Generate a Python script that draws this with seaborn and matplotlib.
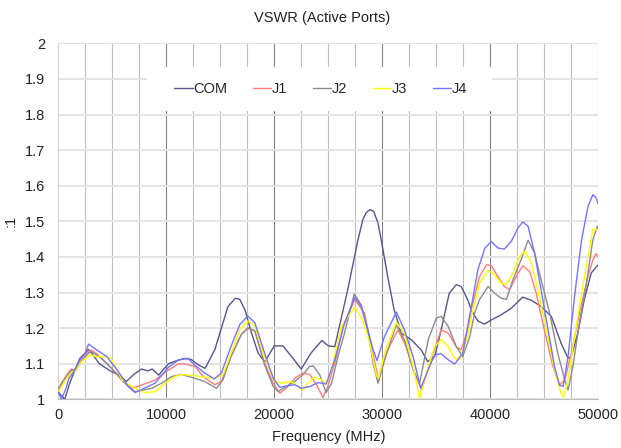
import matplotlib
matplotlib.use("Agg")
import matplotlib.pyplot as plt
from matplotlib.patches import Rectangle
from matplotlib.lines import Line2D
import seaborn as sns
import pandas as pd
import numpy as np

# ---------------- data ----------------
com_f = [0, 300, 600, 1000, 1500, 2000, 2500, 2800, 3200, 3800, 4800, 5500, 6300, 7000, 7700, 8300, 8700, 9300,
         10200, 11100, 11700, 12300, 13000, 13600, 14500, 15100, 15700, 16400, 16800, 17300, 17900, 18500, 19100,
         20000, 20800, 21600, 22500, 23400, 24400, 25000, 25600, 26800, 27750, 28200, 28500, 28850, 29200, 29600,
         29900, 30500, 31100, 31750, 32700, 33600, 34200, 34850, 35450, 36200, 36850, 37300, 37900, 38250, 38850,
         39450, 40100, 41000, 41950, 43000, 43800, 44700, 45650, 46550, 47200, 47500, 48100, 48700, 49350, 50000]
com_v = [1.02, 1.01, 1.00, 1.04, 1.08, 1.115, 1.13, 1.14, 1.125, 1.10, 1.08, 1.07, 1.05, 1.07, 1.085, 1.08, 1.085, 1.068,
         1.10, 1.11, 1.115, 1.112, 1.096, 1.087, 1.14, 1.20, 1.26, 1.284, 1.281, 1.25, 1.185, 1.13, 1.105,
         1.15, 1.15, 1.12, 1.085, 1.13, 1.165, 1.15, 1.148, 1.308, 1.448, 1.505, 1.524, 1.533, 1.528, 1.495,
         1.448, 1.345, 1.251, 1.186, 1.167, 1.139, 1.106, 1.12, 1.195, 1.298, 1.322, 1.317, 1.28, 1.25, 1.22,
         1.211, 1.223, 1.237, 1.256, 1.287, 1.278, 1.261, 1.233, 1.158, 1.115, 1.12, 1.186, 1.28, 1.355, 1.378]

j1_f = [0, 400, 800, 1200, 1600, 2000, 2500, 3000, 3500, 4000, 5000, 6000, 6800, 7700, 8950, 10200, 11100, 11600,
        12650, 13550, 14500, 15100, 16000, 16950, 17550, 18200, 19100, 19900, 20500, 21100, 21900, 22650, 23300,
        23900, 24500, 24950, 25600, 26400, 27450, 28350, 29000, 29650, 30500, 31450, 32200, 33000, 33650, 34500,
        35450, 36100, 36850, 37300, 37950, 38300, 39000, 39650, 40100, 40700, 41300, 41800, 42400, 43000, 43650,
        44250, 45000, 45800, 46400, 46900, 47500, 48250, 49050, 49500, 49800, 50000]
j1_v = [1.02, 1.05, 1.07, 1.085, 1.08, 1.10, 1.125, 1.138, 1.13, 1.115, 1.085, 1.05, 1.031, 1.04, 1.054, 1.082, 1.099, 1.10,
        1.092, 1.06, 1.041, 1.05, 1.121, 1.182, 1.199, 1.192, 1.102, 1.045, 1.017, 1.031, 1.059, 1.074, 1.069,
        1.041, 1.005, 1.036, 1.102, 1.206, 1.28, 1.242, 1.148, 1.053, 1.139, 1.195, 1.148, 1.073, 1.026, 1.111,
        1.195, 1.186, 1.148, 1.139, 1.20, 1.26, 1.345, 1.378, 1.375, 1.345, 1.317, 1.308, 1.345, 1.375, 1.359,
        1.298, 1.195, 1.092, 1.04, 1.054, 1.129, 1.242, 1.345, 1.392, 1.409, 1.40]

j2_f = [0, 400, 800, 1200, 1600, 2000, 2500, 3000, 3500, 4000, 5000, 6000, 7100, 8650, 9550, 10500, 11400, 12650,
        13550, 14650, 15250, 16000, 16950, 17550, 18200, 19100, 19900, 20350, 21100, 21900, 22650, 23250, 23600,
        24200, 24800, 25300, 25900, 26500, 27400, 28050, 28650, 29150, 29600, 30200, 31300, 32050, 32850, 33450,
        34250, 35000, 35450, 36100, 36850, 37450, 38100, 38550, 39000, 39800, 40400, 41000, 41500, 42100, 42850,
        43500, 44100, 44700, 45500, 46250, 46900, 47200, 47650, 48250, 48900, 49500, 49900, 50000]
j2_v = [1.03, 1.05, 1.065, 1.08, 1.085, 1.10, 1.12, 1.135, 1.125, 1.115, 1.085, 1.05, 1.021, 1.031, 1.045, 1.064, 1.07, 1.059,
        1.05, 1.031, 1.055, 1.121, 1.182, 1.201, 1.192, 1.097, 1.036, 1.022, 1.036, 1.05, 1.069, 1.092, 1.094,
        1.069, 1.019, 1.045, 1.121, 1.186, 1.296, 1.265, 1.195, 1.101, 1.045, 1.111, 1.209, 1.167, 1.083, 1.045,
        1.167, 1.228, 1.233, 1.205, 1.148, 1.12, 1.176, 1.242, 1.28, 1.317, 1.298, 1.284, 1.281, 1.336, 1.392,
        1.447, 1.411, 1.336, 1.242, 1.129, 1.054, 1.026, 1.092, 1.214, 1.326, 1.448, 1.486, 1.48]

j3_f = [0, 400, 800, 1200, 1600, 2000, 2500, 3000, 3500, 4300, 4900, 5900, 7100, 8000, 8950, 9900, 10800, 11400,
        12650, 13550, 14500, 15250, 16000, 16800, 17550, 18200, 19100, 20000, 20800, 21550, 22200, 22650, 23100,
        23700, 24350, 24800, 25300, 26200, 27450, 28200, 28850, 29450, 29650, 30200, 31300, 32050, 32850, 33450,
        34250, 34850, 35450, 36100, 36700, 37150, 37900, 38250, 39000, 39800, 40400, 41000, 41500, 42100, 42700,
        43200, 43800, 44400, 45200, 45950, 46550, 46750, 47200, 47800, 48450, 49050, 49500, 50000]
j3_v = [1.02, 1.04, 1.06, 1.075, 1.08, 1.10, 1.115, 1.125, 1.12, 1.12, 1.115, 1.054, 1.031, 1.019, 1.021, 1.045, 1.064, 1.07,
        1.066, 1.062, 1.059, 1.069, 1.13, 1.196, 1.22, 1.206, 1.121, 1.05, 1.045, 1.05, 1.036, 1.026, 1.045,
        1.062, 1.055, 1.043, 1.083, 1.206, 1.258, 1.223, 1.158, 1.068, 1.059, 1.129, 1.216, 1.186, 1.092, 1.003,
        1.092, 1.148, 1.167, 1.148, 1.115, 1.111, 1.176, 1.233, 1.326, 1.362, 1.35, 1.326, 1.322, 1.355, 1.401,
        1.416, 1.383, 1.308, 1.195, 1.083, 1.017, 1.006, 1.054, 1.176, 1.298, 1.401, 1.477, 1.477]

j4_f = [0, 300, 700, 1000, 1500, 2000, 2500, 2800, 3500, 4500, 5500, 6500, 7100, 8950, 10200, 11100, 12000, 12600,
        13550, 14450, 15100, 16000, 16800, 17550, 18200, 19100, 19900, 20500, 21300, 21900, 22500, 23300, 24050,
        24800, 25600, 26500, 27450, 28050, 28650, 29150, 29500, 30200, 31300, 32050, 32850, 33550, 34250, 34850,
        35450, 36100, 36700, 37450, 38250, 38850, 39500, 40100, 40700, 41300, 41950, 42550, 43000, 43500, 44100,
        44700, 45350, 45950, 46400, 46750, 47200, 47800, 48450, 49050, 49500, 49800, 50000]
j4_v = [1.02, 1.0, 1.03, 1.06, 1.08, 1.11, 1.13, 1.155, 1.14, 1.12, 1.08, 1.035, 1.019, 1.045, 1.09, 1.11, 1.115, 1.097,
        1.074, 1.057, 1.074, 1.149, 1.21, 1.234, 1.215, 1.13, 1.059, 1.034, 1.038, 1.041, 1.031, 1.036, 1.047,
        1.043, 1.111, 1.214, 1.287, 1.261, 1.195, 1.139, 1.109, 1.176, 1.245, 1.195, 1.12, 1.031, 1.083, 1.125,
        1.128, 1.111, 1.099, 1.129, 1.261, 1.364, 1.425, 1.443, 1.425, 1.422, 1.444, 1.481, 1.498, 1.486, 1.411,
        1.308, 1.195, 1.092, 1.04, 1.036, 1.12, 1.289, 1.448, 1.542, 1.575, 1.566, 1.547]

series_names = ["COM", "J1", "J2", "J3", "J4"]
series_colors = ["#56568c", "#ff7c7c", "#8c8c8c", "#ffff00", "#7474ff"]
x_ticks = [0, 10000, 20000, 30000, 40000, 50000]
y_ticks = [1, 1.1, 1.2, 1.3, 1.4, 1.5, 1.6, 1.7, 1.8, 1.9, 2]
y_tick_labels = ["1", "1.1", "1.2", "1.3", "1.4", "1.5", "1.6", "1.7", "1.8", "1.9", "2"]

# ---------------- build long-form table ----------------
frames = []
for name, f, v in zip(series_names, [com_f, j1_f, j2_f, j3_f, j4_f], [com_v, j1_v, j2_v, j3_v, j4_v]):
    frames.append(pd.DataFrame({"Frequency": f, "VSWR": v, "Port": name}))
df = pd.concat(frames, ignore_index=True)

sns.set_theme(style="white")
plt.rcParams["font.family"] = ["Liberation Sans", "DejaVu Sans"]
FS = 10.5

fig = plt.figure(figsize=(6.21, 4.48), dpi=100)
ax = fig.add_axes([58.3 / 621, 1 - 399.3 / 448, 540 / 621, 356 / 448])

palette = dict(zip(series_names, series_colors))
sns.lineplot(data=df, x="Frequency", y="VSWR", hue="Port", hue_order=series_names, palette=palette,
             estimator=None, sort=False, linewidth=1.0, ax=ax, legend=False, zorder=3)

ax.set_xlim(0, 50000)
ax.set_ylim(1, 2)
ax.set_xticks(x_ticks)
ax.set_xticklabels([str(t) for t in x_ticks])
ax.set_xticks(np.arange(0, 50001, 2500), minor=True)
ax.set_yticks(y_ticks)
ax.set_yticklabels(y_tick_labels)
ax.tick_params(axis="both", which="both", length=0, labelsize=FS, colors="#222222")
ax.tick_params(axis="x", pad=6)
ax.tick_params(axis="y", pad=9.5)

ax.set_axisbelow(True)
ax.grid(which="minor", axis="x", color="#bdbdbd", linewidth=0.8)
ax.grid(which="major", axis="x", color="#858585", linewidth=0.8)
ax.grid(which="major", axis="y", color="#e4e4e4", linewidth=1.4)
ax.xaxis.get_gridlines()[0].set_visible(False)

for s in ["top", "right"]:
    ax.spines[s].set_visible(False)
ax.spines["left"].set_color("#d6d6d6")
ax.spines["left"].set_linewidth(0.8)
ax.spines["bottom"].set_color("#bdbdbd")
ax.spines["bottom"].set_linewidth(0.8)

# legend background box
ax.add_patch(Rectangle((0.1637, 0.810), 0.639, 0.124, transform=ax.transAxes,
                       facecolor="white", edgecolor="none", zorder=1.5))
handles = [Line2D([], [], color=c, linewidth=1.0) for c in series_colors]
leg = ax.legend(handles, series_names, ncol=5, loc="center", bbox_to_anchor=(0.486, 0.8716),
                frameon=False, fontsize=FS, handlelength=1.25, handletextpad=0.05,
                columnspacing=1.75)
leg.set_zorder(4)

fig.text(322 / 621, 1 - 18 / 448, "VSWR (Active Ports)", ha="center", va="center", fontsize=FS, color="#222222")
ax.set_xlabel("Frequency (MHz)", fontsize=FS, color="#222222", va="center")
ax.xaxis.set_label_coords(0.5, (399.3 - 437) / 356)
ax.set_ylabel(":1", fontsize=FS, color="#222222", va="center", ha="center")
ax.yaxis.set_label_coords((10.5 - 58.3) / 540, 0.5)

fig.savefig("out.png", dpi=100)
